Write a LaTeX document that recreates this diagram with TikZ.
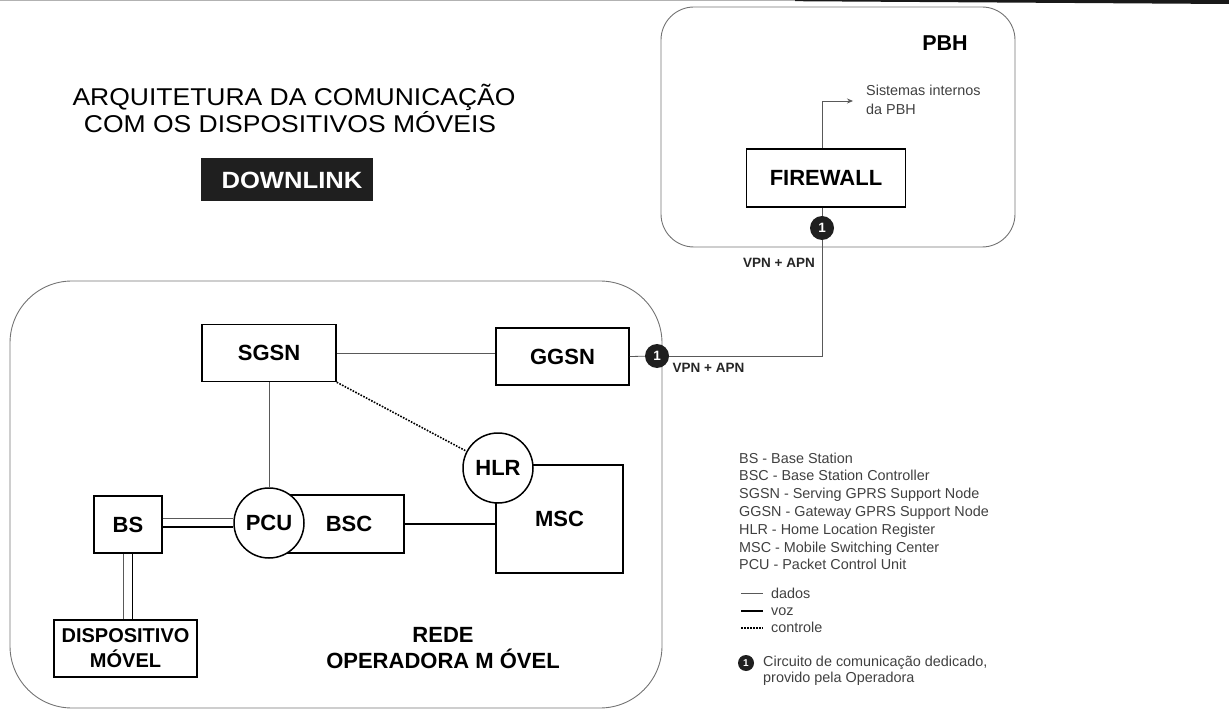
\documentclass[tikz,border=0pt]{standalone}
\usepackage{fontspec}
\setmainfont{Liberation Sans}
\newfontfamily\titlefont{Liberation Sans}[FakeStretch=1.09]
\usetikzlibrary{arrows.meta}
\begin{document}
\begin{tikzpicture}[x=1pt,y=-1pt,
  box/.style={draw=black, line width=1.5pt, fill=white, inner sep=0pt,
    font=\fontsize{22}{25}\selectfont\bfseries},
  circ/.style={circle, draw=black, line width=1.5pt, fill=white, inner sep=0pt,
    minimum size=70pt, font=\fontsize{22}{25}\selectfont\bfseries},
  region/.style={draw=black!55, line width=0.9pt, rounded corners=#1},
  dados/.style={draw=black!65, line width=0.8pt},
  voz/.style={draw=black, line width=1.9pt},
  controle/.style={draw=black, line width=1.6pt, dash pattern=on 1.6pt off 1.4pt},
  badge/.style={circle, fill=black!88, text=white, inner sep=0pt, minimum size=24pt,
    font=\fontsize{13.5}{13.5}\selectfont\bfseries},
  smallbadge/.style={circle, fill=black!88, text=white, inner sep=0pt, minimum size=16pt,
    font=\fontsize{10}{10}\selectfont\bfseries},
  vpn/.style={font=\fontsize{13.5}{15}\selectfont\bfseries, text=black!85, inner sep=0pt},
  legtext/.style={font=\fontsize{14.4}{17}\selectfont, text=black!75, inner sep=0pt},
]
\useasboundingbox (0,0) rectangle (1229,711);

% scan border at the top
\fill[black!90] (795,0) -- (1229,0) -- (1229,4) -- (795,1.2) -- cycle;
\draw[black!30, line width=0.6pt] (0,0.8) -- (795,0.8);

% title
\node[font=\titlefont\fontsize{24.3}{27}\selectfont, anchor=base, inner sep=0pt] (t1) at (294,105.5) {ARQUITETURA DA COMUNICAÇÃO};
\node[font=\titlefont\fontsize{24.3}{27}\selectfont, anchor=base, inner sep=0pt] (t2) at (290,132.5) {COM OS DISPOSITIVOS MÓVEIS};
\node[fill=black!88, text=white, minimum width=172pt, minimum height=43pt, inner sep=0pt,
  font=\titlefont\bfseries\fontsize{23.5}{23.5}\selectfont] (dl) at (287,180) {\hspace{10pt}DOWNLINK};

% regions
\draw[region=33pt] (661,7) rectangle (1015,247);
\draw[region=62pt] (10,281) rectangle (662,708);

\node[font=\fontsize{21.5}{24}\selectfont\bfseries, inner sep=0pt] (pbh) at (945,43) {PBH};
\node[font=\fontsize{22}{26}\selectfont\bfseries, align=center, inner sep=0pt] (rede) at (443,648) {REDE\\OPERADORA M ÓVEL};

% nodes
\node[box, minimum width=134pt, minimum height=57pt] (sgsn) at (269,353) {SGSN};
\node[box, minimum width=133pt, minimum height=57pt] (ggsn) at (562.5,356.5) {GGSN};
\node[box, minimum width=68pt, minimum height=57pt] (bs) at (128,524.5) {BS};
\node[box, minimum width=116pt, minimum height=58pt] (bsc) at (346,524) {\hspace{6pt}BSC};
\node[circ] (pcu) at (269,523) {PCU};
\node[box, minimum width=127pt, minimum height=108pt] (msc) at (559.5,519) {\raisebox{-3pt}{MSC}};
\node[circ] (hlr) at (498,468) {HLR};
\node[box, minimum width=143pt, minimum height=57pt, align=center,
  font=\fontsize{20}{25}\selectfont\bfseries] (disp) at (125.5,648.5) {DISPOSITIVO\\MÓVEL};
\node[box, minimum width=159pt, minimum height=58pt] (fw) at (826,178) {FIREWALL};

\node[badge] (b1) at (822,228) {1};
\node[badge] (b2) at (657,356) {1};
\coordinate (sis) at (853,101);

% connectors
\draw[dados] (sgsn.east) -- (sgsn.east -| ggsn.west);
\draw[dados] (sgsn.south) -- (pcu.north);
\draw[controle] (sgsn.south east) -- (hlr);
\draw[dados] ([yshift=6.5pt]bs.east) -- ([yshift=6.5pt]bs.east -| pcu.west);
\draw[voz] ([yshift=-2.5pt]bs.east) -- ([yshift=-2.5pt]bs.east -| pcu.west);
\draw[dados] ([xshift=-4.5pt]bs.south) -- ([xshift=-4.5pt]bs.south |- disp.north);
\draw[voz] ([xshift=4.5pt]bs.south) -- ([xshift=4.5pt]bs.south |- disp.north);
\draw[voz] (bsc.east) -- (bsc.east -| msc.west);
\draw[dados] (ggsn.east) -- (b2);
\draw[dados] (b2) -| (b1);
\draw[dados] (b1) -- (b1 |- fw.south);
\draw[dados, -{Stealth[length=6pt,width=5pt]}] (b1 |- fw.north) |- (sis);

\node[font=\fontsize{14.4}{19}\selectfont, text=black!75, align=left, anchor=west, inner sep=0pt] (sistxt) at (866,99.5) {Sistemas internos\\da PBH};
\node[vpn] (vpn1) at (779,263) {VPN + APN};
\node[vpn] (vpn2) at (708.5,368) {VPN + APN};

% legend
\foreach \t [count=\i] in {{BS - Base Station},{BSC - Base Station Controller},{SGSN - Serving GPRS Support Node},{GGSN - Gateway GPRS Support Node},{HLR - Home Location Register},{MSC - Mobile Switching Center},{PCU - Packet Control Unit}}
  \node[legtext, anchor=base west] (lg\i) at (739,{463+(\i-1)*17.8}) {\t};

\coordinate (la1) at (741,593); \coordinate (lb1) at (763,593);
\coordinate (la2) at (741,611); \coordinate (lb2) at (763,611);
\coordinate (la3) at (741,628); \coordinate (lb3) at (763,628);
\draw[dados] (la1) -- (lb1);
\draw[voz] (la2) -- (lb2);
\draw[controle] (la3) -- (lb3);
\node[legtext, anchor=west] (ld1) at (771,593) {dados};
\node[legtext, anchor=west] (ld2) at (771,612) {voz};
\node[legtext, anchor=west] (ld3) at (771,627) {controle};

\node[smallbadge] (lbg) at (746,663) {1};
\node[legtext, anchor=west, align=left, font=\fontsize{14.4}{15.6}\selectfont] (lbt) at (763,670.5) {Circuito de comunicação dedicado,\\provido pela Operadora};
\end{tikzpicture}
\end{document}
